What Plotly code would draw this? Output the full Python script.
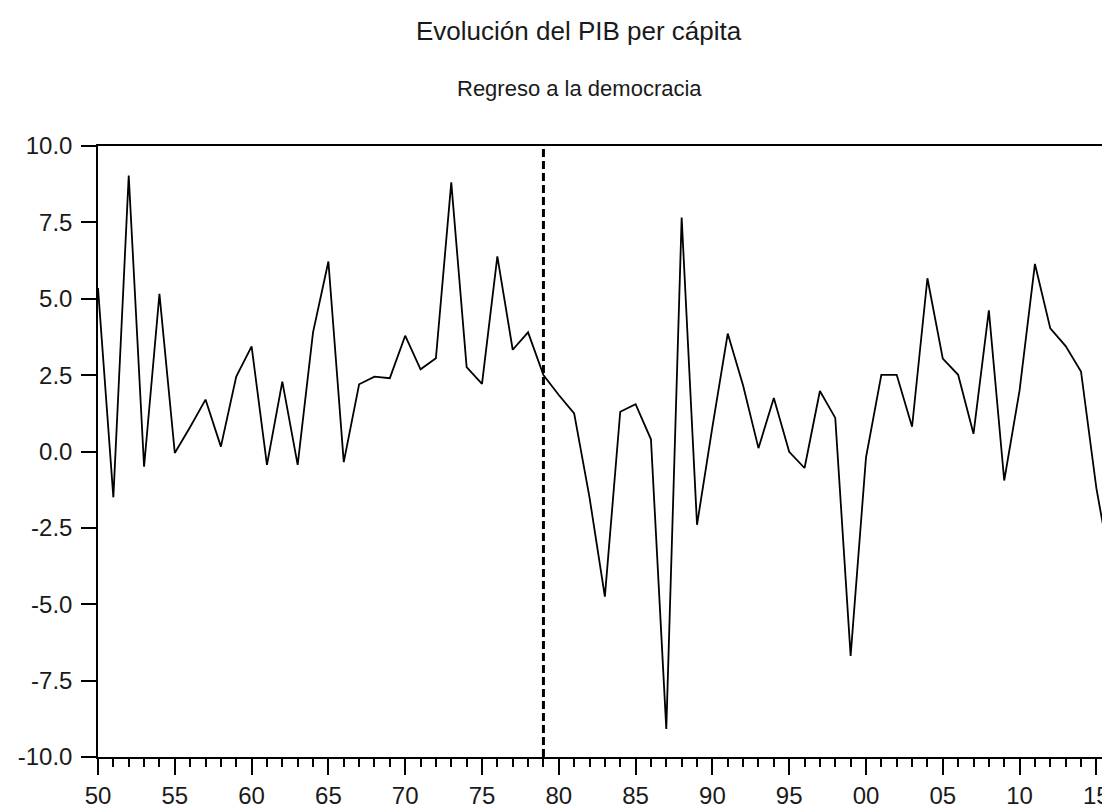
import plotly.graph_objects as go

# ---- data ----
years = list(range(1950, 2017))
pib_pc = [
    5.35, -1.5, 9.03, -0.5, 5.16, -0.05, 0.8, 1.7, 0.16, 2.45,      # 1950-1959
    3.44, -0.44, 2.29, -0.44, 3.9, 6.22, -0.35, 2.2, 2.45, 2.4,      # 1960-1969
    3.79, 2.69, 3.05, 8.81, 2.76, 2.21, 6.39, 3.33, 3.9, 2.5,        # 1970-1979
    1.85, 1.25, -1.5, -4.75, 1.3, 1.55, 0.4, -9.08, 7.66, -2.4,      # 1980-1989
    0.8, 3.86, 2.16, 0.11, 1.75, -0.01, -0.54, 1.98, 1.1, -6.69,     # 1990-1999
    -0.2, 2.51, 2.51, 0.81, 5.67, 3.04, 2.51, 0.58, 4.62, -0.95,     # 2000-2009
    2.0, 6.14, 4.03, 3.45, 2.62, -1.2, -4.0,                         # 2010-2016
]
marker_year = 1979
x_tick_vals = [1950, 1955, 1960, 1965, 1970, 1975, 1980, 1985, 1990, 1995, 2000, 2005, 2010, 2015]
x_tick_text = ["50", "55", "60", "65", "70", "75", "80", "85", "90", "95", "00", "05", "10", "15"]
y_tick_vals = [-10, -7.5, -5, -2.5, 0, 2.5, 5, 7.5, 10]
title_text = "Evolución del PIB per cápita"
subtitle_text = "Regreso a la democracia"

FONT = "Liberation Sans, Arial, sans-serif"

fig = go.Figure()
fig.add_trace(go.Scatter(
    x=years, y=pib_pc, mode="lines",
    line=dict(color="black", width=1.8),
    showlegend=False, hoverinfo="x+y",
))

fig.add_shape(
    type="line", xref="x", yref="paper",
    x0=marker_year, x1=marker_year, y0=0, y1=1,
    line=dict(color="black", width=3, dash="8px,4px"),
)

fig.add_annotation(
    text=title_text, xref="paper", yref="paper", x=0.4763, y=1.188,
    xanchor="center", yanchor="middle", showarrow=False,
    font=dict(family=FONT, size=26, color="#1a1a1a"),
)
fig.add_annotation(
    text=subtitle_text, xref="paper", yref="paper", x=0.4763, y=1.094,
    xanchor="center", yanchor="middle", showarrow=False,
    font=dict(family=FONT, size=22, color="#1a1a1a"),
)

fig.update_layout(
    width=1102, height=804,
    margin=dict(l=90, r=0, t=138, b=55),
    paper_bgcolor="white", plot_bgcolor="white",
    font=dict(family=FONT, size=22, color="#1a1a1a"),
    xaxis=dict(
        range=[1950, 1950 + 1012 / 15.39],
        tickmode="array", tickvals=x_tick_vals, ticktext=x_tick_text,
        ticks="outside", ticklen=16, tickwidth=1.5, tickcolor="black",
        showline=True, linecolor="black", linewidth=1.5, mirror=True,
        showgrid=False, zeroline=False,
        ticklabeloverflow="allow",
        minor=dict(tickmode="linear", tick0=1950, dtick=1, ticks="outside",
                   ticklen=8, tickwidth=1.5, tickcolor="black", showgrid=False),
        tickfont=dict(family=FONT, size=24, color="#1a1a1a"),
    ),
    yaxis=dict(
        range=[-10, 10],
        tickmode="array", tickvals=y_tick_vals,
        ticktext=[f"{v:.1f}" for v in y_tick_vals],
        ticks="outside", ticklen=15, tickwidth=1.5, tickcolor="black",
        showline=True, linecolor="black", linewidth=1.5, mirror=False,
        showgrid=False, zeroline=False,
        tickfont=dict(family=FONT, size=24, color="#1a1a1a"),
        ticklabelstandoff=4,
    ),
)

fig.write_html("out.html")
